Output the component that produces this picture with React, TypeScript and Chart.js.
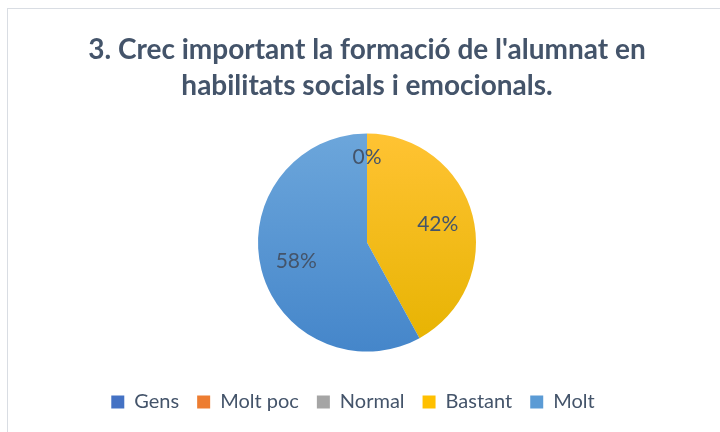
import { useEffect, useRef } from "react";
import { Chart, registerables } from "chart.js";

Chart.register(...registerables);

const categories = ["Gens", "Molt poc", "Normal", "Bastant", "Molt"];
const values = [0, 0, 0, 42, 58];
const titleLines = [
  "3. Crec important la formació de l'alumnat en",
  "habilitats socials i emocionals.",
];
const topColors = ["#4A7BD0", "#F08536", "#ADADAD", "#FFC333", "#6CA6DB"];
const bottomColors = ["#3D68B5", "#E0722A", "#999999", "#E6B300", "#4586CA"];
const legendColors = ["#4472C4", "#ED7D31", "#A5A5A5", "#FFC000", "#5B9BD5"];

const TEXT_COLOR = "#44546A";
const FONT = "Lato, 'Open Sans', sans-serif";

const labelPlugin = {
  id: "sliceLabels",
  afterDatasetsDraw(chart: any) {
    const meta = chart.getDatasetMeta(0);
    const data = chart.data.datasets[0].data as number[];
    const total = data.reduce((a, b) => a + b, 0);
    const ctx = chart.ctx;
    ctx.save();
    ctx.font = `21px ${FONT}`;
    ctx.fillStyle = TEXT_COLOR;
    ctx.textAlign = "center";
    ctx.textBaseline = "middle";
    const drawn = new Set<string>();
    meta.data.forEach((arc: any, i: number) => {
      const { x, y, startAngle, endAngle, outerRadius } = arc.getProps(
        ["x", "y", "startAngle", "endAngle", "outerRadius"],
        true
      );
      const mid = (startAngle + endAngle) / 2;
      const f = data[i] === 0 ? 0.78 : 0.67;
      const px = x + Math.cos(mid) * outerRadius * f;
      const py = y + Math.sin(mid) * outerRadius * f;
      const key = `${Math.round(px)},${Math.round(py)}`;
      if (drawn.has(key)) return;
      drawn.add(key);
      const pct = Math.round((data[i] / total) * 100) + "%";
      ctx.fillText(pct, px, py);
    });
    ctx.restore();
  },
};

const legendShiftPlugin = {
  id: "legendShift",
  afterLayout(chart: any) {
    const lg = chart.legend;
    if (lg) {
      lg.left -= 14;
      lg.right -= 14;
    }
  },
};

export default function App() {
  const ref = useRef<HTMLCanvasElement>(null);
  useEffect(() => {
    if (!ref.current) return;
    const chart = new Chart(ref.current, {
      type: "pie",
      data: {
        labels: categories,
        datasets: [
          {
            data: values,
            borderWidth: 0,
            backgroundColor: (c: any) => {
              const ch = c.chart;
              const area = ch.chartArea;
              const i = c.dataIndex;
              if (!area) return legendColors[i];
              const meta = ch.getDatasetMeta(0);
              const el = meta.data[i];
              const cy = el && el.y ? el.y : (area.top + area.bottom) / 2;
              const r = el && el.outerRadius ? el.outerRadius : 109;
              const g = ch.ctx.createLinearGradient(0, cy - r, 0, cy + r);
              g.addColorStop(0, topColors[i]);
              g.addColorStop(1, bottomColors[i]);
              return g;
            },
          },
        ],
      },
      options: {
        animation: false,
        responsive: false,
        radius: 109,
        layout: { padding: { left: 6, bottom: 10 } },
        plugins: {
          title: {
            display: true,
            text: titleLines,
            color: TEXT_COLOR,
            font: { family: FONT, size: 28, weight: "bold", lineHeight: 1.29 },
            padding: { top: 23, bottom: 7 },
          },
          legend: {
            position: "bottom",
            labels: {
              color: TEXT_COLOR,
              font: { family: FONT, size: 20 },
              boxWidth: 13,
              boxHeight: 13,
              padding: 18,
              generateLabels: () =>
                categories.map((t, i) => ({
                  text: t,
                  fillStyle: legendColors[i],
                  strokeStyle: legendColors[i],
                  lineWidth: 0,
                  hidden: false,
                  index: i,
                  datasetIndex: 0,
                  fontColor: TEXT_COLOR,
                })),
            },
          },
          tooltip: { enabled: false },
        },
      } as any,
      plugins: [labelPlugin, legendShiftPlugin],
    });
    return () => chart.destroy();
  }, []);

  return (
    <div
      style={{
        position: "fixed",
        left: 0,
        top: 0,
        width: 720,
        height: 432,
        overflow: "hidden",
        background: "#ffffff",
      }}
    >
      <div
        style={{
          position: "absolute",
          left: 7,
          top: 8,
          width: 740,
          height: 450,
          border: "1px solid #d9dde3",
          boxSizing: "border-box",
        }}
      />
      <canvas
        ref={ref}
        width={712}
        height={423}
        style={{ position: "absolute", left: 8, top: 9, width: 712, height: 423 }}
      />
    </div>
  );
}
